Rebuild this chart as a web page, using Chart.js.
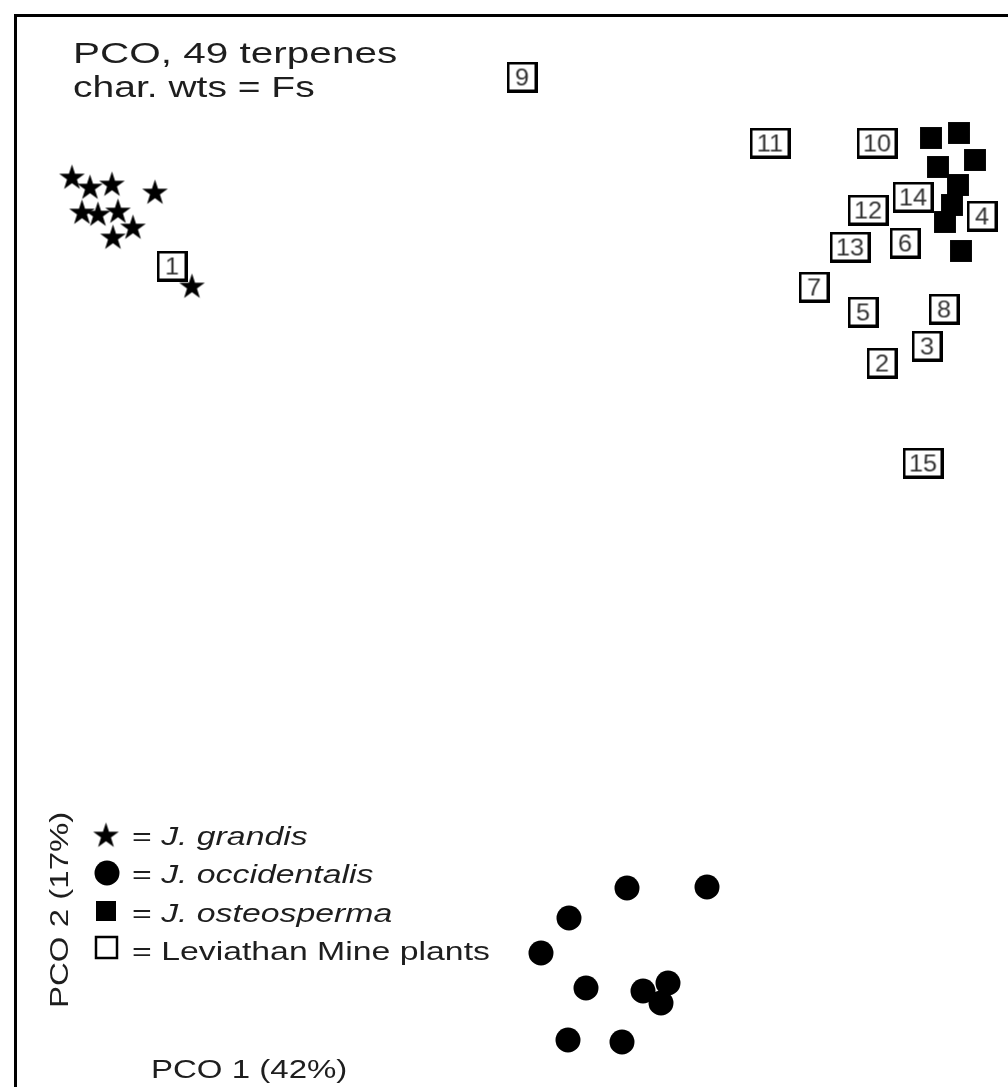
<!DOCTYPE html>
<html>
<head>
<meta charset="utf-8">
<title>PCO, 49 terpenes</title>
<script src="https://cdn.jsdelivr.net/npm/chart.js@4.4.1/dist/chart.umd.min.js"></script>
<style>
  html, body { margin: 0; padding: 0; background: #fff; overflow: hidden; }
  #pco { display: block; }
</style>
</head>
<body>
<canvas id="pco" width="1008" height="1087"></canvas>
<script>
// PCO scores (arbitrary units, axis 1 = x, axis 2 = y)
var grandisX = [5.6, 7.4, 9.6, 13.9, 6.6, 8.2, 10.2, 11.7, 9.7, 17.6];
var grandisY = [90.9, 89.9, 90.2, 89.4, 87.4, 87.2, 87.5, 85.9, 84.9, 80.0];

var occidentalisX = [61.1, 69.1, 55.3, 52.5, 57.0, 62.7, 65.2, 64.5, 55.2, 60.6];
var occidentalisY = [19.9, 20.0, 16.9, 13.4, 9.9, 9.6, 10.4, 8.4, 4.7, 4.5];

var osteospermaX = [91.5, 94.3, 95.9, 92.2, 94.2, 93.6, 92.9, 94.5];
var osteospermaY = [94.9, 95.4, 92.7, 92.0, 90.2, 88.2, 86.5, 83.6];

var mineLabels = ['1', '2', '3', '4', '5', '6', '7', '8', '9', '10', '11', '12', '13', '14', '15'];
var mineX = [15.6, 86.6, 91.1, 96.6, 84.7, 88.9, 79.8, 92.8, 50.6, 86.1, 75.4, 85.2, 83.4, 89.7, 90.7];
var mineY = [82.1, 72.4, 74.1, 87.1, 77.5, 84.4, 80.0, 77.8, 101.0, 94.4, 94.4, 87.7, 84.0, 89.0, 62.4];

var titleLines = ['PCO, 49 terpenes', 'char. wts = Fs'];
var xTitle = 'PCO 1 (42%)';
var yTitle = 'PCO 2 (17%)';
var legendNames = ['J. grandis', 'J. occidentalis', 'J. osteosperma', 'Leviathan Mine plants'];

var INK = '#1e1e1e';
var FONT = '"Liberation Sans", Arial, sans-serif';

function toPoints(xs, ys) {
    return xs.map(function (x, i) { return { x: x, y: ys[i] }; });
}

function wideText(ctx, text, x, y, sx) {
    ctx.save();
    ctx.translate(x, y);
    ctx.scale(sx, 1);
    ctx.fillText(text, 0, 0);
    var w = ctx.measureText(text).width * sx;
    ctx.restore();
    return w;
}

function makeStar(outer, inner) {
    var c = document.createElement('canvas');
    var s = Math.ceil(outer * 2 + 2);
    c.width = s; c.height = s;
    var g = c.getContext('2d');
    g.translate(s / 2, s / 2);
    g.beginPath();
    for (var i = 0; i < 10; i++) {
        var r = i % 2 === 0 ? outer : inner;
        var a = -Math.PI / 2 + i * Math.PI / 5;
        g.lineTo(r * Math.cos(a), r * Math.sin(a));
    }
    g.closePath();
    g.fillStyle = '#000';
    g.fill();
    return c;
}

function makeBox(label, w, h) {
    var c = document.createElement('canvas');
    c.width = w; c.height = h;
    var g = c.getContext('2d');
    g.fillStyle = '#fff';
    g.fillRect(0, 0, w, h);
    g.strokeStyle = '#000';
    g.lineWidth = 3;
    g.strokeRect(1.5, 1.5, w - 3, h - 3);
    if (label) {
        g.fillStyle = '#333';
        g.font = '23px ' + FONT;
        g.textBaseline = 'alphabetic';
        var sx = 1.1;
        var tw = g.measureText(label).width * sx;
        wideText(g, label, (w - tw) / 2, h / 2 + 8.5, sx);
    }
    return c;
}

var starImg = makeStar(13.5, 5.2);
var boxImgs = mineLabels.map(function (l) {
    return makeBox(l, l.length > 1 ? 41 : 31, 31);
});

var decor = {
    id: 'pcoDecor',
    beforeDraw: function (chart) {
        var ctx = chart.ctx;
        ctx.save();
        ctx.fillStyle = '#fff';
        ctx.fillRect(0, 0, chart.width, chart.height);
        ctx.restore();
    },
    beforeDatasetsDraw: function (chart) {
        var ctx = chart.ctx;
        var a = chart.chartArea;
        ctx.save();
        ctx.strokeStyle = '#000';
        ctx.lineWidth = 3;
        ctx.beginPath();
        ctx.moveTo(a.left - 0.5, a.bottom + 5);
        ctx.lineTo(a.left - 0.5, a.top - 0.5);
        ctx.lineTo(a.right + 5, a.top - 0.5);
        ctx.stroke();

        ctx.fillStyle = INK;
        ctx.textBaseline = 'alphabetic';

        // title in the upper left corner
        ctx.font = '30px ' + FONT;
        wideText(ctx, titleLines[0], 73, 63, 1.35);
        wideText(ctx, titleLines[1], 73, 97, 1.30);

        // axis titles sit inside the frame
        ctx.font = '26px ' + FONT;
        wideText(ctx, xTitle, 151, 1078, 1.27);
        ctx.save();
        ctx.translate(68, 1008);
        ctx.rotate(-Math.PI / 2);
        wideText(ctx, yTitle, 0, 0, 1.27);
        ctx.restore();

        // legend
        var base = [845, 883, 922, 960];
        var mx = 106;
        ctx.drawImage(starImg, mx - starImg.width / 2, base[0] - 9 - starImg.height / 2);
        ctx.beginPath();
        ctx.arc(mx + 1, base[1] - 10, 12.5, 0, Math.PI * 2);
        ctx.fillStyle = '#000';
        ctx.fill();
        ctx.fillRect(mx - 10, base[2] - 21, 20, 20);
        ctx.lineWidth = 2.5;
        ctx.strokeRect(mx - 10, base[3] - 23, 21, 21);

        ctx.fillStyle = INK;
        for (var i = 0; i < 4; i++) {
            ctx.font = '26px ' + FONT;
            var w = wideText(ctx, '= ', 132, base[i], 1.3);
            if (i < 3) ctx.font = 'italic 26px ' + FONT;
            wideText(ctx, legendNames[i], 132 + w, base[i], 1.3);
        }
        ctx.restore();
    }
};

new Chart(document.getElementById('pco'), {
    type: 'scatter',
    data: {
        datasets: [{
            label: 'J. grandis',
            data: toPoints(grandisX, grandisY),
            pointStyle: starImg,
            order: 0
        }, {
            label: 'Leviathan Mine plants',
            data: toPoints(mineX, mineY),
            pointStyle: boxImgs,
            order: 1
        }, {
            label: 'J. osteosperma',
            data: toPoints(osteospermaX, osteospermaY),
            pointStyle: 'rect',
            pointRadius: 15.5,
            backgroundColor: '#000',
            borderWidth: 0,
            order: 2
        }, {
            label: 'J. occidentalis',
            data: toPoints(occidentalisX, occidentalisY),
            pointStyle: 'circle',
            pointRadius: 12.5,
            backgroundColor: '#000',
            borderWidth: 0,
            order: 3
        }]
    },
    options: {
        responsive: false,
        animation: false,
        events: [],
        clip: false,
        layout: { autoPadding: false, padding: { left: 16, top: 16, right: 0, bottom: 0 } },
        scales: {
            x: { type: 'linear', min: 0, max: 99.2, display: false },
            y: { type: 'linear', min: 0, max: 107.1, display: false }
        },
        plugins: {
            legend: { display: false },
            tooltip: { enabled: false },
            title: { display: false }
        }
    },
    plugins: [decor]
});
</script>
</body>
</html>
